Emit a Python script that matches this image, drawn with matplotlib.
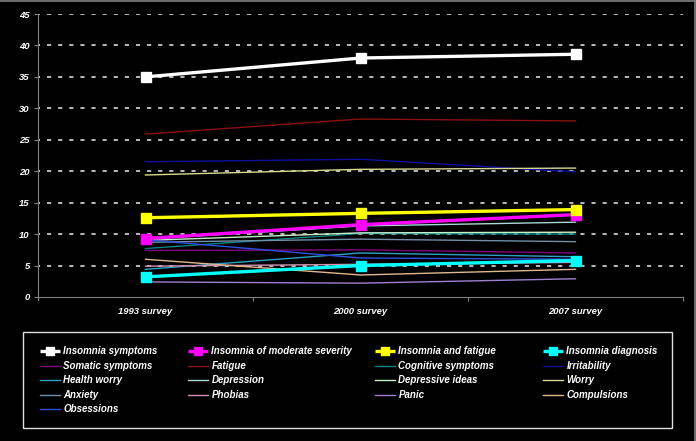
import matplotlib
matplotlib.use('Agg')
import matplotlib.pyplot as plt
from matplotlib.lines import Line2D
from matplotlib.patches import Rectangle

plt.rcParams['lines.scale_dashes'] = False

# ---------------- data ----------------
surveys = ['1993 survey', '2000 survey', '2007 survey']
yticks = [0, 5, 10, 15, 20, 25, 30, 35, 40, 45]

insomnia_symptoms = [35.0, 38.0, 38.6]
insomnia_moderate = [9.3, 11.5, 13.1]
insomnia_fatigue = [12.6, 13.3, 13.9]
insomnia_diagnosis = [3.2, 5.0, 5.8]

somatic = [7.4, 7.5, 7.0]
fatigue = [25.9, 28.3, 28.0]
cognitive = [7.7, 10.1, 10.0]
irritability = [21.5, 21.9, 19.9]
health_worry = [4.4, 7.0, 6.4]
depression = [9.2, 11.3, 11.9]
depressive_ideas = [9.0, 10.2, 10.3]
worry = [19.4, 20.3, 20.5]
anxiety = [8.7, 9.2, 8.8]
phobias = [4.9, 5.2, 5.5]
panic = [2.4, 2.2, 2.9]
compulsions = [6.0, 3.5, 4.4]
obsessions = [9.1, 6.2, 6.0]

bold_series = [
    ('Insomnia symptoms', insomnia_symptoms, '#FFFFFF'),
    ('Insomnia of moderate severity', insomnia_moderate, '#FF00FF'),
    ('Insomnia and fatigue', insomnia_fatigue, '#FFFF00'),
    ('Insomnia diagnosis', insomnia_diagnosis, '#00FFFF'),
]
thin_series = [
    ('Somatic symptoms', somatic, '#800080'),
    ('Fatigue', fatigue, '#8B1010'),
    ('Cognitive symptoms', cognitive, '#008080'),
    ('Irritability', irritability, '#1010A0'),
    ('Health worry', health_worry, '#2AA0C8'),
    ('Depression', depression, '#A8D8D8'),
    ('Depressive ideas', depressive_ideas, '#C8F0C8'),
    ('Worry', worry, '#D8D890'),
    ('Anxiety', anxiety, '#7090A8'),
    ('Phobias', phobias, '#D090B0'),
    ('Panic', panic, '#A080D0'),
    ('Compulsions', compulsions, '#E0B890'),
    ('Obsessions', obsessions, '#3050E0'),
]

FONT = 'Liberation Sans'
W, H = 696, 441
fig = plt.figure(figsize=(W / 100, H / 100), dpi=100, facecolor='black')

ax_l, ax_r, ax_t, ax_b = 38, 683, 14, 297
ax = fig.add_axes([ax_l / W, 1 - ax_b / H, (ax_r - ax_l) / W, (ax_b - ax_t) / H])
ax.set_facecolor('black')

x = list(range(len(surveys)))
handles = []
for i, (name, vals, col) in enumerate(bold_series):
    h, = ax.plot(x, vals, color=col, lw=2.4, marker='s', ms=6.5,
                 mfc=col, mec=col, zorder=5 + i, label=name, solid_capstyle='butt')
    handles.append(h)
for name, vals, col in thin_series:
    h, = ax.plot(x, vals, color=col, lw=1.0, zorder=3, label=name)
    handles.append(h)

ax.set_xlim(-0.5, 2.5)
ax.set_ylim(0, 45)
ax.set_yticks(yticks)
ax.set_yticklabels([str(v) for v in yticks])
ax.set_xticks(x)
ax.set_xticklabels(surveys)
ax.set_xticks([-0.5, 0.5, 1.5, 2.5], minor=True)

for v in yticks[1:]:
    ax.axhline(v, color='#C8C8C8', lw=1.3, ls=(1.5, (3.0, 5.0)), zorder=1)

for s in ['top', 'right']:
    ax.spines[s].set_visible(False)
for s in ['left', 'bottom']:
    ax.spines[s].set_color('#808080')
    ax.spines[s].set_linewidth(0.8)

ax.tick_params(axis='y', colors='#808080', length=3, width=0.8, pad=3)
ax.tick_params(axis='x', which='major', length=0, pad=7)
ax.tick_params(axis='x', which='minor', colors='#808080', length=3, width=0.8)
for lab in ax.get_yticklabels():
    lab.set_color('white'); lab.set_fontfamily(FONT); lab.set_fontweight('bold')
    lab.set_fontstyle('italic'); lab.set_fontsize(6.8)
for lab in ax.get_xticklabels():
    lab.set_color('white'); lab.set_fontfamily(FONT); lab.set_fontweight('bold')
    lab.set_fontstyle('italic'); lab.set_fontsize(6.8)

# ---------------- legend ----------------
fig.patches.append(Rectangle((23 / W, 1 - 428 / H), (672 - 23) / W, (428 - 332) / H,
                             transform=fig.transFigure, fill=False,
                             edgecolor='#E0E0E0', lw=1.0))
col_x = [40, 188, 375, 543]
n = len(handles)
for c in range(4):
    idx = list(range(c, n, 4))
    leg = fig.legend([handles[i] for i in idx], [handles[i].get_label() for i in idx],
                     loc='upper left', bbox_to_anchor=(col_x[c] / W, 1 - 346.5 / H),
                     frameon=False, borderpad=0, borderaxespad=0,
                     handlelength=2.1, handletextpad=0.3, labelspacing=0.46,
                     markerscale=0.8,
                     prop={'family': FONT, 'weight': 'bold', 'style': 'italic', 'size': 7})
    for t in leg.get_texts():
        t.set_color('white')

# figure border (top and right)
fig.add_artist(Line2D([0, 1], [1 - 0.5 / H, 1 - 0.5 / H], transform=fig.transFigure,
                      color='#808080', lw=1.2))
fig.add_artist(Line2D([1 - 1.5 / W, 1 - 1.5 / W], [0, 1], transform=fig.transFigure,
                      color='#808080', lw=1.2))

fig.savefig('out.png', dpi=100, facecolor='black')
